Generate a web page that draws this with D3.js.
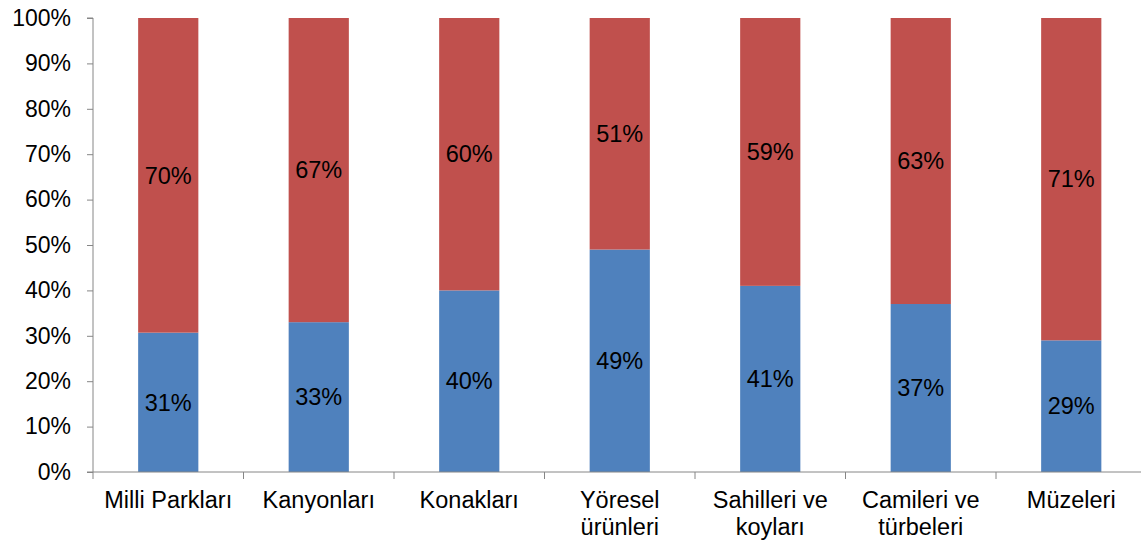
<!DOCTYPE html>
<html>
<head>
<meta charset="utf-8">
<script src="https://cdn.jsdelivr.net/npm/d3@7"></script>
<style>
  body { margin: 0; background: #fff; }
  text { font-family: "Liberation Sans", Arial, sans-serif; }
</style>
</head>
<body>
<div id="chart"></div>
<script>
var categories = [["Milli Parkları"], ["Kanyonları"], ["Konakları"], ["Yöresel", "ürünleri"],
                  ["Sahilleri ve", "koyları"], ["Camileri ve", "türbeleri"], ["Müzeleri"]];
var blueValues = [31, 33, 40, 49, 41, 37, 29];
var redValues = [70, 67, 60, 51, 59, 63, 71];
var yTicks = [0, 10, 20, 30, 40, 50, 60, 70, 80, 90, 100];

var margin = {top: 18, right: 0, bottom: 71, left: 93},
    bandW = 150.5,
    width = bandW * categories.length,
    height = 543 - margin.top - margin.bottom;

var svg = d3.select("#chart").append("svg")
    .attr("width", 1141)
    .attr("height", 543)
  .append("g")
    .attr("transform", "translate(" + margin.left + "," + margin.top + ")");

var x = d3.scaleBand()
    .domain(d3.range(categories.length))
    .range([0, width])
    .paddingInner(0.6)
    .paddingOuter(0.3);

var y = d3.scaleLinear()
    .domain([0, 100])
    .range([height, 0]);

// normalize to 100% stacked
var data = blueValues.map(function(b, i) {
  var total = b + redValues[i];
  return {i: i, blue: b, red: redValues[i], bp: b / total * 100};
});

// blue segments
svg.selectAll("rect.blue")
  .data(data)
  .enter().append("rect")
    .attr("class", "blue")
    .attr("x", function(d) { return x(d.i); })
    .attr("width", x.bandwidth())
    .attr("y", function(d) { return y(d.bp); })
    .attr("height", function(d) { return y(0) - y(d.bp); })
    .style("fill", "#4F81BD");

// red segments
svg.selectAll("rect.red")
  .data(data)
  .enter().append("rect")
    .attr("class", "red")
    .attr("x", function(d) { return x(d.i); })
    .attr("width", x.bandwidth())
    .attr("y", y(100))
    .attr("height", function(d) { return y(d.bp) - y(100); })
    .style("fill", "#C0504D");

// data labels
svg.selectAll("text.lblb")
  .data(data)
  .enter().append("text")
    .attr("x", function(d) { return x(d.i) + x.bandwidth() / 2; })
    .attr("y", function(d) { return y(d.bp / 2); })
    .attr("dy", "0.35em")
    .attr("text-anchor", "middle")
    .style("font-size", "23.5px")
    .text(function(d) { return d.blue + "%"; });

svg.selectAll("text.lblr")
  .data(data)
  .enter().append("text")
    .attr("x", function(d) { return x(d.i) + x.bandwidth() / 2; })
    .attr("y", function(d) { return y((d.bp + 100) / 2); })
    .attr("dy", "0.35em")
    .attr("text-anchor", "middle")
    .style("font-size", "23.5px")
    .text(function(d) { return d.red + "%"; });

// y axis
var yAxis = d3.axisLeft(y)
    .tickValues(yTicks)
    .tickSize(6)
    .tickPadding(16)
    .tickFormat(function(d) { return d + "%"; });

var gy = svg.append("g").call(yAxis);
gy.selectAll("path, line").attr("stroke", "#868686");
gy.select(".domain").attr("d", "M-6," + y(100) + "H0V" + y(0) + "H-6");
gy.selectAll("text").style("font-size", "23px").style("fill", "#000")
  .style("font-family", "Liberation Sans, Arial, sans-serif");

// x axis baseline + boundary ticks
svg.append("line")
    .attr("x1", 0).attr("x2", width)
    .attr("y1", height).attr("y2", height)
    .attr("stroke", "#868686");

svg.selectAll("line.xt")
  .data(d3.range(categories.length + 1))
  .enter().append("line")
    .attr("x1", function(d) { return d * x.step(); })
    .attr("x2", function(d) { return d * x.step(); })
    .attr("y1", height).attr("y2", height + 7)
    .attr("stroke", "#868686");

// category labels
var cl = svg.selectAll("text.cat")
  .data(categories)
  .enter().append("text")
    .attr("text-anchor", "middle")
    .attr("transform", function(d, i) {
      return "translate(" + (x(i) + x.bandwidth() / 2) + "," + (height + 36) + ")";
    })
    .style("font-size", "23.5px");

cl.selectAll("tspan")
  .data(function(d) { return d; })
  .enter().append("tspan")
    .attr("x", 0)
    .attr("y", function(d, j) { return j * 27; })
    .text(function(d) { return d; });
</script>
</body>
</html>
